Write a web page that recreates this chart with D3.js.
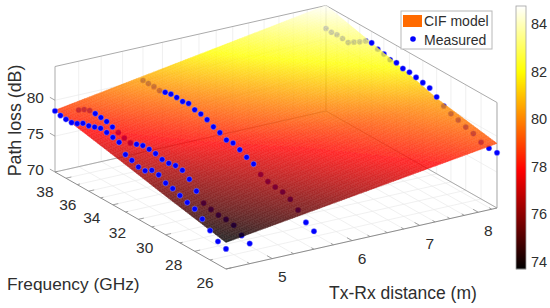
<!DOCTYPE html>
<html>
<head>
<meta charset="utf-8">
<script src="https://cdn.jsdelivr.net/npm/d3@7"></script>
<style>
html,body{margin:0;padding:0;background:#fff}
svg{display:block}
text{font-family:"Liberation Sans",Arial,sans-serif;fill:#2e2e2e}
</style>
</head>
<body>
<svg id="chart" width="550" height="308"></svg>
<script>
// ---------- data ----------
const frequencies = [39,38.5,38,37.5,37,36.5,36,35.5,35,34.5,34,33.5,33,32.5,32,31.5,31,30.5,30,29.5,29,28.5,28,27.5,27,26.5,26];
const distances = [4.5, 4.75, 5.5, 8.35];
const measured45 = [78.5,78.3,78.2,78.2,78.5,79.0,79.1,79.4,79.7,79.6,79.4,79.2,78.0,77.7,77.3,77.3,77.9,77.8,77.2,77.0,76.6,76.2,75.9,75.1,74.1,73.2,72.8];
const measured475 = [77.9,78.4,78.7,78.7,78.6,78.5,78.2,77.9,77.6,77.4,77.7,78.0,78.0,77.9,77.6,77.6,77.8,77.7,77.0,75.9,74.8,74.5,74.3,74.3,74.1,73.3,72.8];
const measured55 = [80.0,80.0,80.0,79.9,80.1,80.3,80.3,80.2,80.4,80.0,79.9,79.6,79.1,78.8,78.3,78.4,78.0,77.5,77.1,76.2,75.8,75.6,75.5,75.1,74.2,73.1,72.5];
const measured835 = [81.5,81.4,81.5,81.4,81.3,81.8,82.3,82.9,83.1,82.7,82.5,82.2,82.3,82.0,82.0,81.8,81.6,81.4,80.7,80.0,79.5,79.2,78.8,78.5,77.9,77.7,77.7];
const measuredTracks = [measured45, measured475, measured55, measured835];

const surfaceFreqs = [26, 30, 33, 39];
const surfaceAtNear = [73.7, 75.4, 76.6, 78.6];
const surfaceAtFar = [79.0, 80.5, 82.2, 84.7];

const distMajor = [5, 6, 7, 8];
const distMinor = [4.75,5.25,5.5,5.75,6.25,6.5,6.75,7.25,7.5,7.75,8.25];
const freqMajor = [26, 28, 30, 32, 34, 36, 38];
const freqMinor = [27, 29, 31, 33, 35, 37, 39];
const zMajor = [70, 75, 80];
const colorTicks = [74, 76, 78, 80, 82, 84];
const legendLabels = ["CIF model", "Measured"];

// ---------- scales & projection ----------
const dLim = [4.5, 8.35], fLim = [26, 39], zLim = [70, 84.7];
const uScale = d3.scaleLog().domain(dLim).range([0, 1]);
const vScale = d3.scaleLog().domain(fLim).range([0, 1]);
const hScale = d3.scaleLinear().domain(zLim).range([0, 105.5]);
const frontCorner = [226, 269], uVec = [271, -61], vVec = [-171, -97];

function project(d, f, z) {
  const u = uScale(d), v = vScale(f);
  return [frontCorner[0] + u * uVec[0] + v * vVec[0],
          frontCorner[1] + u * uVec[1] + v * vVec[1] - hScale(z)];
}
const nearEdge = d3.scaleLog().domain(surfaceFreqs).range(surfaceAtNear);
const farEdge = d3.scaleLog().domain(surfaceFreqs).range(surfaceAtFar);
function surfaceZ(d, f) {
  const u = uScale(d);
  return nearEdge(f) * (1 - u) + farEdge(f) * u;
}
const cLim = [73.7, 84.75];
const hot = d3.scaleLinear()
  .domain([0, .375, .75, 1].map(t => cLim[0] + t * (cLim[1] - cLim[0])))
  .range(["#000000", "#ff0000", "#ffff00", "#ffffff"])
  .clamp(true);

const svg = d3.select("#chart");
const defs = svg.append("defs");
defs.append("filter").attr("id", "soft")
  .attr("x", "-5%").attr("y", "-5%").attr("width", "110%").attr("height", "110%")
  .append("feGaussianBlur").attr("stdDeviation", .55);
const line = d3.line();
const zFloor = zLim[0], zTop = zLim[1];

function seg(g, a, b, color, w) {
  g.append("path").attr("d", line([a, b])).attr("fill", "none")
    .attr("stroke", color).attr("stroke-width", w);
}

// ---------- grids and box behind the surface ----------
const gridG = svg.append("g");
const gridColor = "#e9e9e9";
const allD = distMajor.concat(distMinor), allF = freqMajor.concat(freqMinor);
allD.forEach(d => {
  seg(gridG, project(d, fLim[0], zFloor), project(d, fLim[1], zFloor), gridColor, .7);
  seg(gridG, project(d, fLim[1], zFloor), project(d, fLim[1], zTop), gridColor, .7);
});
allF.forEach(f => {
  seg(gridG, project(dLim[0], f, zFloor), project(dLim[1], f, zFloor), gridColor, .7);
  seg(gridG, project(dLim[1], f, zFloor), project(dLim[1], f, zTop), gridColor, .7);
});
zMajor.forEach(z => {
  seg(gridG, project(dLim[0], fLim[1], z), project(dLim[1], fLim[1], z), gridColor, .7);
  seg(gridG, project(dLim[1], fLim[1], z), project(dLim[1], fLim[0], z), gridColor, .7);
});
const boxColor = "#ababab";
[[dLim[0], fLim[1]], [dLim[1], fLim[1]], [dLim[1], fLim[0]]].forEach(c =>
  seg(gridG, project(c[0], c[1], zFloor), project(c[0], c[1], zTop), boxColor, 1));
seg(gridG, project(dLim[0], fLim[1], zTop), project(dLim[1], fLim[1], zTop), boxColor, 1);
seg(gridG, project(dLim[1], fLim[1], zTop), project(dLim[1], fLim[0], zTop), boxColor, 1);
seg(gridG, project(dLim[0], fLim[1], zFloor), project(dLim[1], fLim[1], zFloor), boxColor, 1);
seg(gridG, project(dLim[1], fLim[1], zFloor), project(dLim[1], fLim[0], zFloor), boxColor, 1);

// ---------- axes and tick marks ----------
const axisG = svg.append("g");
const axisColor = "#8c8c8c";
seg(axisG, project(dLim[0], fLim[0], zFloor), project(dLim[1], fLim[0], zFloor), axisColor, 1);
seg(axisG, project(dLim[0], fLim[0], zFloor), project(dLim[0], fLim[1], zFloor), axisColor, 1);
function dTick(d, k) {
  const a = project(d, fLim[0], zFloor);
  seg(axisG, a, [a[0] + vVec[0] * k, a[1] + vVec[1] * k], axisColor, .8);
}
function fTick(f, k) {
  const a = project(dLim[0], f, zFloor);
  seg(axisG, a, [a[0] + uVec[0] * k, a[1] + uVec[1] * k], axisColor, .8);
}
distMajor.forEach(d => dTick(d, .03));
distMinor.forEach(d => dTick(d, .015));
freqMajor.forEach(f => fTick(f, .02));
freqMinor.forEach(f => fTick(f, .01));
zMajor.forEach(z => {
  const a = project(dLim[0], fLim[1], z);
  seg(axisG, a, [a[0] + vVec[0] * .03, a[1] + vVec[1] * .03], axisColor, .8);
});

// ---------- measured points under the surface ----------
const points = [];
distances.forEach((d, i) => frequencies.forEach((f, j) => {
  const z = measuredTracks[i][j];
  points.push({d, f, z, covered: d > dLim[0] && z < surfaceZ(d, f)});
}));
function drawPoints(g, data) {
  g.selectAll("circle").data(data).enter().append("circle")
    .attr("cx", p => project(p.d, p.f, p.z)[0])
    .attr("cy", p => project(p.d, p.f, p.z)[1])
    .attr("r", 2.8)
    .attr("fill", "#0000ff")
    .attr("stroke", "#a8a8ff")
    .attr("stroke-width", .4);
}
drawPoints(svg.append("g"), points.filter(p => p.covered));

// ---------- surface ----------
const surfG = svg.append("g").attr("opacity", .83).attr("filter", "url(#soft)");
const uSteps = d3.range(0, 111).map(i => i / 110);
const vSteps = d3.range(0, 81).map(i => i / 80);
const dAt = u => uScale.invert(u), fAt = v => vScale.invert(v);
const cells = [];
uSteps.slice(0, -1).forEach((u, i) => vSteps.slice(0, -1).forEach((v, j) => {
  cells.push([dAt(u), dAt(uSteps[i + 1]), fAt(v), fAt(vSteps[j + 1])]);
}));
surfG.selectAll("path").data(cells).enter().append("path")
  .attr("d", c => {
    const pts = [[c[0], c[2]], [c[1], c[2]], [c[1], c[3]], [c[0], c[3]]]
      .map(q => project(q[0], q[1], surfaceZ(q[0], q[1])));
    return line(pts) + "Z";
  })
  .attr("fill", c => hot(surfaceZ((c[0] + c[1]) / 2, (c[2] + c[3]) / 2)))
  .attr("stroke", c => hot(surfaceZ((c[0] + c[1]) / 2, (c[2] + c[3]) / 2)))
  .attr("stroke-width", .5);

// ---------- measured points above the surface ----------
drawPoints(svg.append("g"), points.filter(p => !p.covered));

// ---------- tick labels ----------
const labelG = svg.append("g").attr("font-size", 15.5)
  .attr("text-anchor", "middle").attr("dominant-baseline", "central");
freqMajor.forEach(f => {
  const a = project(dLim[0], f, zFloor);
  labelG.append("text").attr("x", a[0] - 21).attr("y", a[1] + 13).text(f);
});
distMajor.forEach(d => {
  const a = project(d, fLim[0], zFloor);
  labelG.append("text").attr("x", a[0] + 10).attr("y", a[1] + 18).text(d);
});
zMajor.forEach(z => {
  const a = project(dLim[0], fLim[1], z);
  labelG.append("text").attr("x", a[0] - 11).attr("y", a[1] - 3)
    .attr("text-anchor", "end").text(z);
});

// ---------- axis titles ----------
svg.append("text").attr("x", 7).attr("y", 290).attr("font-size", 17.3).text("Frequency (GHz)");
svg.append("text").attr("x", 329).attr("y", 299).attr("font-size", 17.5).text("Tx-Rx distance (m)");
svg.append("text").attr("transform", "translate(21,120.5) rotate(-90)")
  .attr("text-anchor", "middle").attr("font-size", 17.8).text("Path loss (dB)");

// ---------- colour bar ----------
const barScale = d3.scaleLinear().domain(cLim).range([269, 6]);
const barG = svg.append("g");
const barLevels = d3.range(0, 264).map(i => barScale.invert(269 - i - .5));
barG.selectAll("rect").data(barLevels).enter().append("rect")
  .attr("x", 516).attr("width", 10)
  .attr("y", z => barScale(z) - .5).attr("height", 1.2)
  .attr("fill", z => hot(z));
barG.append("rect").attr("x", 516).attr("y", 6).attr("width", 10).attr("height", 263)
  .attr("fill", "none").attr("stroke", "#a0a0a0").attr("stroke-width", .8);
const barAxis = svg.append("g").attr("transform", "translate(526,0)")
  .call(d3.axisRight(barScale).tickValues(colorTicks).tickSize(0).tickPadding(5));
barAxis.select(".domain").remove();
barAxis.selectAll("text").attr("font-size", 14.5)
  .attr("font-family", '"Liberation Sans",Arial,sans-serif');

// ---------- legend ----------
const legend = svg.append("g");
legend.append("rect").attr("x", 401).attr("y", 11).attr("width", 91).attr("height", 38)
  .attr("fill", "#fff").attr("stroke", "#b8b8b8").attr("stroke-width", 1);
legend.append("rect").attr("x", 403).attr("y", 15).attr("width", 19).attr("height", 12)
  .attr("fill", "#ff6a00");
legend.append("circle").attr("cx", 413).attr("cy", 39).attr("r", 2.8).attr("fill", "#0000ff");
legend.selectAll("text").data(legendLabels).enter().append("text")
  .attr("x", 424).attr("y", (t, i) => 26 + i * 18.5).attr("font-size", 14).text(t => t);
</script>
</body>
</html>
